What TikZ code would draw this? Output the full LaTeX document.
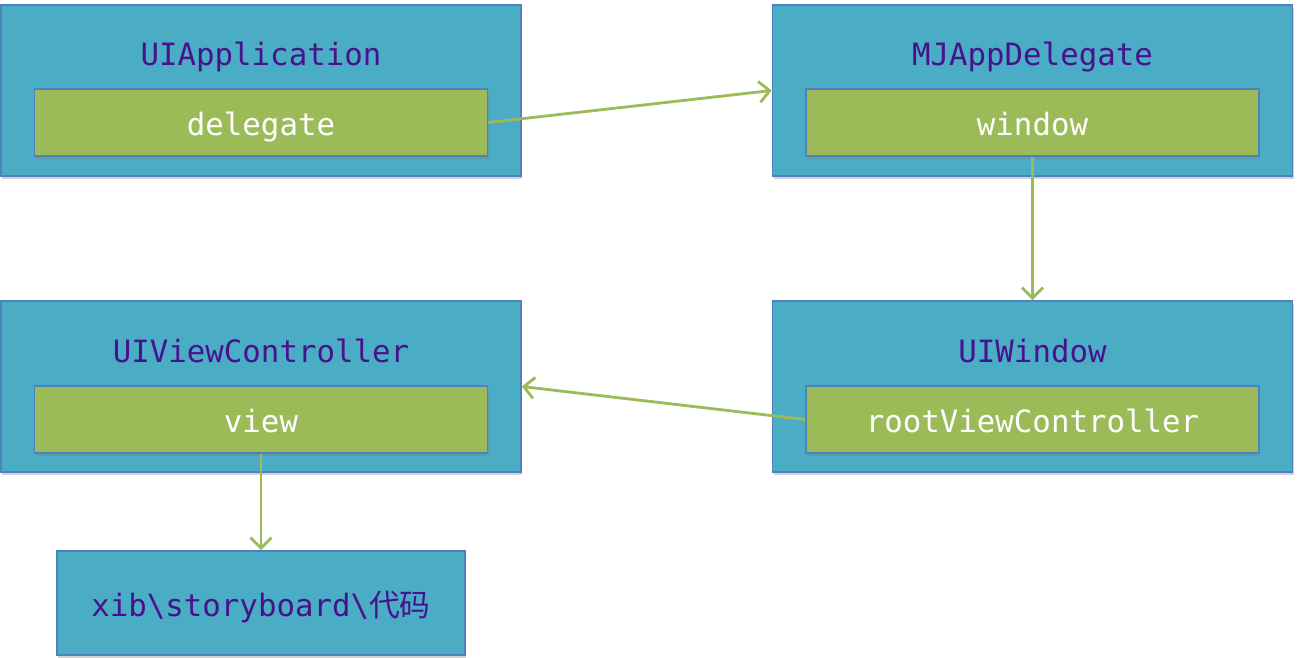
\documentclass[tikz,border=0pt]{standalone}
\usepackage{fontspec}
\setmonofont{DejaVu Sans Mono}
\newfontfamily\cjk{Noto Sans CJK SC}
\usetikzlibrary{arrows.meta,shadows}

\definecolor{boxblue}{HTML}{4BACC6}
\definecolor{edgeblue}{HTML}{4F81BD}
\definecolor{fieldgreen}{HTML}{9BBB59}
\definecolor{titlepurple}{RGB}{72,18,140}

\begin{document}
\begin{tikzpicture}[
    every node/.style={font=\ttfamily\fontsize{17.5}{20}\selectfont},
    objbox/.style={draw=edgeblue, line width=0.9pt, fill=boxblue, rectangle,
        minimum width=10.4cm, minimum height=3.42cm,
        drop shadow={opacity=0.35, shadow xshift=0.6pt, shadow yshift=-1.6pt}},
    fieldbox/.style={draw=edgeblue, line width=0.9pt, fill=fieldgreen, rectangle,
        minimum width=9.06cm, minimum height=1.34cm, text=white,
        text height=15pt, text depth=0pt,
        drop shadow={opacity=0.35, shadow xshift=0.6pt, shadow yshift=-1.6pt}},
    objtitle/.style={text=titlepurple, anchor=base},
    link/.style={-{Straight Barb[length=6pt,width=12pt]}, line width=1.6pt, draw=fieldgreen}
]
\useasboundingbox (0,0) rectangle (26,-13.16);

% Boxes
\node[objbox] (app) at (5.22,-1.81) {};
\node[objbox] (appdelegate) at (20.65,-1.81) {};
\node[objbox] (win) at (20.65,-7.73) {};
\node[objbox] (viewctrl) at (5.22,-7.73) {};
\node[objbox, minimum width=8.16cm, minimum height=2.08cm, text=titlepurple,
    text height=15pt, text depth=0pt] (xib) at (5.22,-12.06) {xib\textbackslash storyboard\textbackslash{\cjk 代码}};

% Titles
\node[objtitle] (apptitle) at (5.22,-1.30) {UIApplication};
\node[objtitle] (appdelegatetitle) at (20.65,-1.30) {MJAppDelegate};
\node[objtitle] (wintitle) at (20.65,-7.24) {UIWindow};
\node[objtitle] (viewctrltitle) at (5.22,-7.24) {UIViewController};

% Fields
\node[fieldbox] (delegate) at (5.22,-2.45) {delegate};
\node[fieldbox] (window) at (20.65,-2.45) {window};
\node[fieldbox] (rootvc) at (20.65,-8.39) {rootViewController};
\node[fieldbox] (view) at (5.22,-8.39) {view};

% Arrows
\draw[link] (delegate.east) -- (appdelegate.west);
\draw[link] (window.south) -- (win.north);
\draw[link] (rootvc.west) -- (viewctrl.east);
\draw[link] (view.south) -- (xib.north);
\end{tikzpicture}
\end{document}
